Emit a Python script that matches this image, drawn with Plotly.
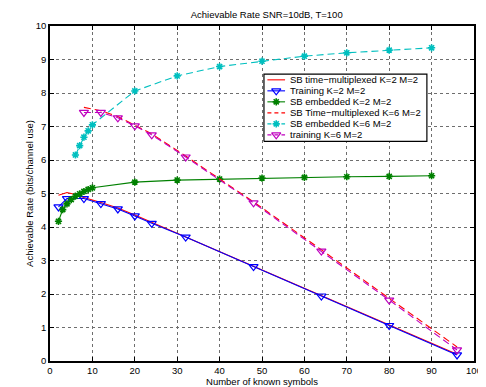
import plotly.graph_objects as go

# ---------------- data ----------------
x_sb_k2 = [2, 4, 6, 8, 12, 16, 20, 24, 32, 48, 64, 80, 96]
y_sb_k2 = [4.95, 5.03, 4.97, 4.88, 4.73, 4.57, 4.36, 4.14, 3.72, 2.84, 1.96, 1.08, 0.20]

x_tr_k2 = [2, 4, 8, 12, 16, 20, 24, 32, 48, 64, 80, 96]
y_tr_k2 = [4.60, 4.85, 4.85, 4.70, 4.54, 4.33, 4.11, 3.70, 2.82, 1.94, 1.06, 0.18]

x_emb_k2 = [2, 3, 4, 5, 6, 7, 8, 9, 10, 20, 30, 40, 50, 60, 70, 80, 90]
y_emb_k2 = [4.17, 4.52, 4.69, 4.82, 4.92, 4.99, 5.06, 5.12, 5.17, 5.34, 5.40, 5.43,
            5.46, 5.48, 5.50, 5.51, 5.53]

x_sb_k6 = [8, 12, 16, 20, 24, 32, 48, 64, 80, 96]
y_sb_k6 = [7.57, 7.47, 7.30, 7.05, 6.78, 6.12, 4.75, 3.32, 1.88, 0.42]

x_emb_k6 = [6, 7, 8, 9, 10, 20, 30, 40, 50, 60, 70, 80, 90]
y_emb_k6 = [6.15, 6.43, 6.68, 6.87, 7.05, 8.06, 8.51, 8.79, 8.95, 9.10, 9.20, 9.28, 9.35]

x_tr_k6 = [8, 12, 16, 20, 24, 32, 48, 64, 80, 96]
y_tr_k6 = [7.42, 7.42, 7.26, 7.02, 6.75, 6.09, 4.72, 3.28, 1.82, 0.33]

series_names = [
    "SB time\u2212multiplexed K=2 M=2",
    "Training K=2 M=2",
    "SB embedded K=2 M=2",
    "SB Time\u2212multiplexed K=6 M=2",
    "SB embedded K=6 M=2",
    "training K=6 M=2",
]
x_ticks = [0, 10, 20, 30, 40, 50, 60, 70, 80, 90, 100]
y_ticks = [0, 1, 2, 3, 4, 5, 6, 7, 8, 9, 10]

title_text = "Achievable Rate SNR=10dB, T=100"
x_title = "Number of known symbols"
y_title = "Achievable Rate (bits/channel use)"

# ---------------- styles ----------------
RED = "rgb(255,0,0)"
BLUE = "rgb(0,0,255)"
GREEN = "rgb(0,128,0)"
CYAN = "rgb(0,191,191)"
MAGENTA = "rgb(191,0,191)"
DASH = "7px,4px"
FONT = "Liberation Sans, Arial, Helvetica, sans-serif"

styles = [
    dict(color=RED, dash="solid", symbol=None),
    dict(color=BLUE, dash="solid", symbol="triangle-down-open"),
    dict(color=GREEN, dash="solid", symbol="asterisk-open"),
    dict(color=RED, dash=DASH, symbol=None),
    dict(color=CYAN, dash=DASH, symbol="asterisk-open"),
    dict(color=MAGENTA, dash=DASH, symbol="triangle-down-open"),
]
data = [
    (x_sb_k2, y_sb_k2), (x_tr_k2, y_tr_k2), (x_emb_k2, y_emb_k2),
    (x_sb_k6, y_sb_k6), (x_emb_k6, y_emb_k6), (x_tr_k6, y_tr_k6),
]


def marker_for(st):
    if st["symbol"].startswith("asterisk"):
        return dict(symbol=st["symbol"], size=6, color=st["color"],
                    line=dict(color=st["color"], width=1.6))
    return dict(symbol=st["symbol"], size=8, color=st["color"],
                line=dict(color=st["color"], width=1.2))


fig = go.Figure()
for (xs, ys), name, st in zip(data, series_names, styles):
    mode = "lines" if st["symbol"] is None else "lines+markers"
    fig.add_trace(go.Scatter(
        x=xs, y=ys, mode=mode, name=name, showlegend=False,
        line=dict(color=st["color"], width=1.1, dash=st["dash"]),
        marker=marker_for(st) if st["symbol"] else None,
    ))

# ---------------- manual compact legend (MATLAB-like), drawn on an overlay axis ----------------
W, H = 486, 387
L, R, T, B = 42, 12, 16, 30
pw, ph = W - L - R, H - T - B


def px_x(p):
    return (p - L) / pw


def px_y(p):
    return (H - B - p) / ph


bx0, bx1, by0, by1 = px_x(260), px_x(426), px_y(133.5), px_y(65)
fig.add_trace(go.Scatter(
    x=[bx0, bx1, bx1, bx0, bx0], y=[by0, by0, by1, by1, by0],
    xaxis="x2", yaxis="y2", mode="lines", fill="toself", fillcolor="white",
    line=dict(color="black", width=1.2), showlegend=False, hoverinfo="skip"))

row0, gap = 70.8, 11.2
for i, (name, st) in enumerate(zip(series_names, styles)):
    yy = px_y(row0 + i * gap)
    fig.add_trace(go.Scatter(
        x=[px_x(263.5), px_x(281.5)], y=[yy, yy], xaxis="x2", yaxis="y2",
        mode="lines", showlegend=False, hoverinfo="skip",
        line=dict(color=st["color"], width=1.1,
                  dash="solid" if st["dash"] == "solid" else "4px,3px")))
    if st["symbol"]:
        fig.add_trace(go.Scatter(x=[px_x(272.5)], y=[yy], xaxis="x2", yaxis="y2",
                                 mode="markers", showlegend=False, hoverinfo="skip",
                                 marker=marker_for(st)))
    fig.add_annotation(x=px_x(284.5), y=yy, xref="paper", yref="paper", text=name,
                       showarrow=False, xanchor="left", yanchor="middle",
                       font=dict(size=9.5, color="black", family=FONT))

axis_common = dict(
    showline=True, linecolor="black", linewidth=1.5, mirror="ticks",
    ticks="inside", ticklen=4, tickwidth=1, tickcolor="black",
    showgrid=True, gridcolor="rgb(110,110,110)", gridwidth=0.8, griddash="dot",
    zeroline=False, tickfont=dict(size=9.5, color="black", family=FONT),
)

fig.update_layout(
    width=W, height=H,
    margin=dict(l=L, r=R, t=T, b=B, pad=0),
    paper_bgcolor="white", plot_bgcolor="white",
    font=dict(family=FONT, size=9.5, color="black"),
    title=dict(text=title_text, x=px_x(262.8), xref="paper", xanchor="center",
               y=1 - 6.7 / H, yref="container", yanchor="middle",
               font=dict(size=9.5, color="black", family=FONT)),
    xaxis=dict(range=[0, 100], tickvals=x_ticks, ticktext=[str(v) for v in x_ticks],
               title=dict(text=x_title, standoff=0, font=dict(size=9.5)), **axis_common),
    yaxis=dict(range=[0, 10], tickvals=y_ticks, ticktext=[str(v) for v in y_ticks],
               title=dict(text=y_title, standoff=0, font=dict(size=9.5)), **axis_common),
    xaxis2=dict(range=[0, 1], overlaying="x", visible=False, fixedrange=True),
    yaxis2=dict(range=[0, 1], overlaying="y", visible=False, fixedrange=True),
    showlegend=False,
)

fig.write_html("out.html")
